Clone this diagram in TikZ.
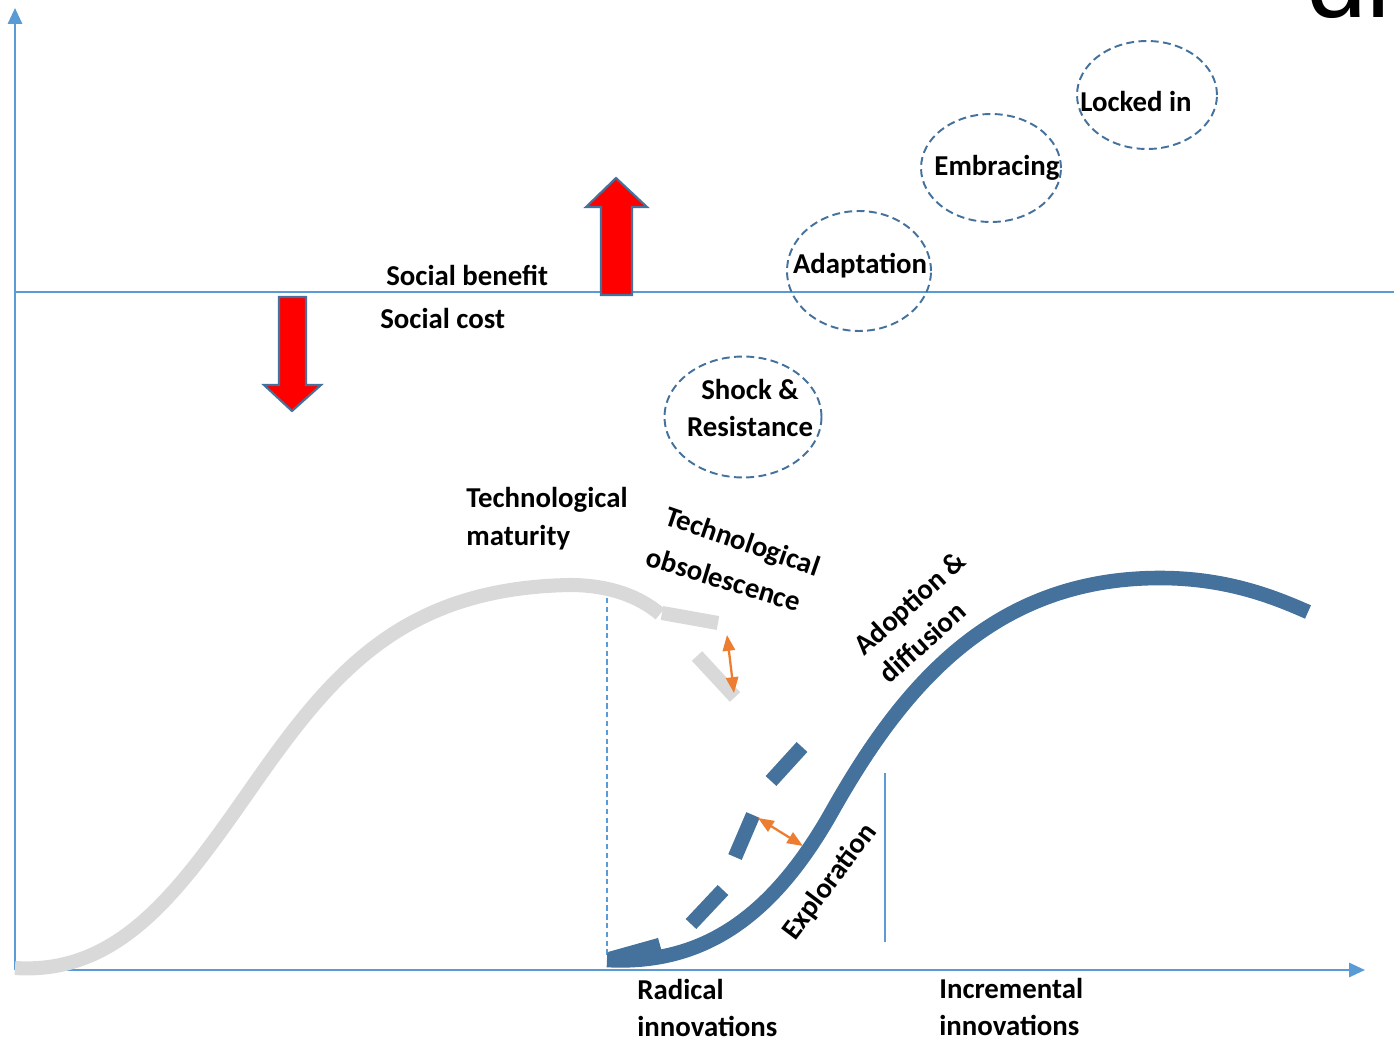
\documentclass[tikz,border=0pt]{standalone}
\usepackage{fontspec}
\setmainfont{Carlito}
\newfontfamily\titlefont{Liberation Sans}
\usetikzlibrary{arrows.meta,shapes.geometric}
\definecolor{axisblue}{HTML}{5B9BD5}
\definecolor{darkblue}{HTML}{44729D}
\definecolor{curvegray}{HTML}{D9D9D9}
\definecolor{arroworange}{HTML}{ED7D31}
\tikzset{
  lbl/.style={font=\fontsize{16.4}{21.5}\selectfont\bfseries, inner sep=0pt, align=left},
  axisline/.style={draw=axisblue, line width=1.4pt, -{Triangle[length=9pt,width=8pt]}},
  thinline/.style={draw=axisblue, line width=0.6pt},
  graycurve/.style={draw=curvegray, line width=8pt},
  bluecurve/.style={draw=darkblue, line width=8.3pt},
  stage/.style={ellipse, draw=darkblue, dashed, dash pattern=on 4.5pt off 2.5pt, line width=1.1pt, inner sep=0pt},
  redarrow/.style={fill=red, draw=darkblue, line width=1.2pt, line join=miter},
  gaparrow/.style={draw=arroworange, line width=1.3pt, {Triangle[length=9pt,width=7pt]}-{Triangle[length=9pt,width=7pt]}}
}
\begin{document}
\begin{tikzpicture}[x=0.02cm,y=-0.02cm]
\useasboundingbox (0,0) rectangle (1394,1041);

% partial title cut by the page edge
\node[anchor=base west, inner sep=0pt, font=\titlefont\fontsize{62}{62}\selectfont] (title) at (1306,17) {di};

% axes
\coordinate (origin) at (15,970);
\coordinate (ytop) at (15,8);
\coordinate (xend) at (1365,970);
\draw[axisline] (origin) -- (ytop);
\draw[axisline] (origin) -- (xend);

% benefit / cost line
\coordinate (hl) at (15,292);
\coordinate (hr) at (1394,292);
\draw[thinline, line width=0.8pt] (hl) -- (hr);

% vertical guides
\coordinate (v1t) at (607,598);
\coordinate (v1b) at (607,955);
\draw[thinline, dashed, dash pattern=on 3pt off 2pt] (v1t) -- (v1b);
\coordinate (v2t) at (885,773);
\coordinate (v2b) at (885,942);
\draw[thinline] (v2t) -- (v2b);

% gray (old technology) curve
\draw[graycurve] (15,968) .. controls (120,975) and (180,890) .. (250,790)
  .. controls (330,675) and (400,588) .. (570,585)
  .. controls (610,585) and (640,597) .. (660,614);
\draw[graycurve] (662,613) -- (718,623);
\draw[graycurve] (697,656) -- (735,697);

% dashed blue curve (pieces)
\draw[bluecurve] (610,959) -- (660,945);
\draw[bluecurve] (691,924) -- (723,890);
\draw[bluecurve] (735,857) -- (753,815);
\draw[bluecurve] (771,781) -- (802,747);

% solid blue curve (new technology)
\draw[bluecurve] (607,960) .. controls (700,965) and (770,920) .. (830,815)
  .. controls (900,690) and (990,578) .. (1160,578)
  .. controls (1225,578) and (1272,596) .. (1308,612);

% orange gap arrows
\coordinate (o1a) at (727,635);
\coordinate (o1b) at (734,693);
\draw[gaparrow] (o1a) -- (o1b);
\coordinate (o2a) at (758,818);
\coordinate (o2b) at (803,846);
\draw[gaparrow] (o2a) -- (o2b);

% red arrows
\draw[redarrow] (601,295) -- (601,207) -- (586,207) -- (616,178) -- (647,207) -- (632,207) -- (632,295) -- cycle;
\draw[redarrow] (279,297) -- (306,297) -- (306,385) -- (321,385) -- (292,411) -- (264,385) -- (279,385) -- cycle;

% stage ellipses
\node[stage, minimum width=3.14cm, minimum height=2.42cm] (shock) at (743,417) {};
\node[stage, minimum width=2.88cm, minimum height=2.4cm] (adapt) at (859,271) {};
\node[stage, minimum width=2.8cm, minimum height=2.16cm] (embr) at (991,168) {};
\node[stage, minimum width=2.8cm, minimum height=2.16cm] (lock) at (1147,95) {};

\node[lbl, align=center] (shocktxt) at (750,408) {Shock \&\\Resistance};
\node[lbl] (adapttxt) at (860,266) {Adaptation};
\node[lbl] (embrtxt) at (997,168) {Embracing};
\node[lbl] (locktxt) at (1136,101) {Locked in};

% labels
\node[lbl, anchor=base west] (benefit) at (386,285) {Social benefit};
\node[lbl, anchor=base west] (cost) at (380,328) {Social cost};
\node[lbl, anchor=west] (maturity) at (466,519) {Technological\\maturity};
\node[lbl, rotate=-19] (obs1) at (742,543) {Technological};
\node[lbl, rotate=-17] (obs2) at (724,579) {obsolescence};
\node[lbl, rotate=42] (adopt) at (922,617) {Adoption \&\\diffusion};
\node[lbl, rotate=53] (explo) at (830,882) {Exploration};
\node[lbl, anchor=west] (radical) at (637,1008) {Radical\\innovations};
\node[lbl, anchor=west] (incr) at (939,1007) {Incremental\\innovations};
\end{tikzpicture}
\end{document}
